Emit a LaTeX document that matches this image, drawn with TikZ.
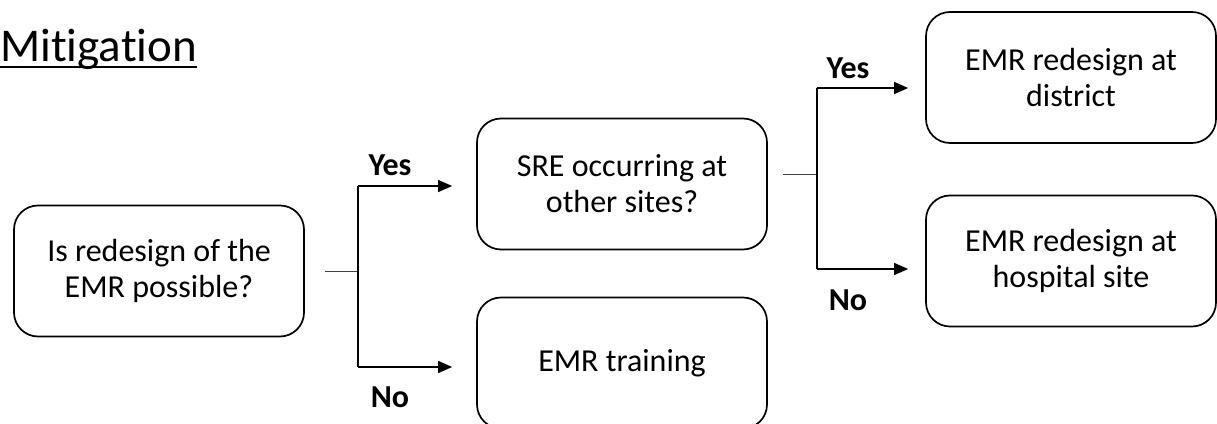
\documentclass[tikz,border=0pt]{standalone}
\usepackage{fontspec}
\setmainfont{Carlito}[Ligatures=NoCommon]
\usetikzlibrary{arrows.meta}
\begin{document}
\begin{tikzpicture}[x=1pt,y=1pt,
  boxnode/.style={draw, line width=1.7pt, rounded corners=24pt, minimum width=290pt, minimum height=131pt, align=center, font=\fontsize{32}{36}\selectfont, inner sep=0pt},
  lab/.style={font=\bfseries\fontsize{32}{34}\selectfont, inner sep=0pt},
  conn/.style={line width=1.2pt},
  stem/.style={line width=1pt, draw=black!75},
  arr/.style={conn, -{Triangle[length=14pt,width=12pt]}}
]
\useasboundingbox (0,0) rectangle (1217,423);
\clip (0,0) rectangle (1217,423);
\fill[white] (0,0) rectangle (1217,423);

\node[anchor=base west, inner sep=0pt, font=\fontsize{47}{52}\selectfont] (title) at (0,361) {Mitigation};
\draw[line width=2.4pt] ([yshift=-5pt]title.base west) -- ([yshift=-5pt]title.base east);

\node[boxnode] (a) at (159,152) {Is redesign of the\\EMR possible?};
\node[boxnode] (b) at (622,239) {SRE occurring at\\other sites?};
\node[boxnode] (c) at (622,60) {EMR training};
\node[boxnode] (d) at (1071,345.5) {EMR redesign at\\district};
\node[boxnode] (e) at (1071,162) {EMR redesign at\\hospital site};

\coordinate (j1) at (358,151);
\coordinate (j1t) at (358,237);
\coordinate (j1b) at (358,56);
\draw[stem] (325,151) -- (j1);
\draw[conn] (j1t) -- (j1b);
\draw[arr] (j1t) -- ([xshift=-24pt]b.west |- j1t);
\draw[arr] (j1b) -- ([xshift=-24pt]c.west |- j1b);

\coordinate (j2) at (817,248);
\coordinate (j2t) at (817,335);
\coordinate (j2b) at (817,154);
\draw[stem] (783,248) -- (j2);
\draw[conn] (j2t) -- (j2b);
\draw[arr] (j2t) -- ([xshift=-17pt]d.west |- j2t);
\draw[arr] (j2b) -- ([xshift=-17pt]e.west |- j2b);

\node[lab] (y1) at (390,258) {Yes};
\node[lab] (n1) at (390,26) {No};
\node[lab] (y2) at (848,355) {Yes};
\node[lab] (n2) at (848,123) {No};
\end{tikzpicture}
\end{document}
